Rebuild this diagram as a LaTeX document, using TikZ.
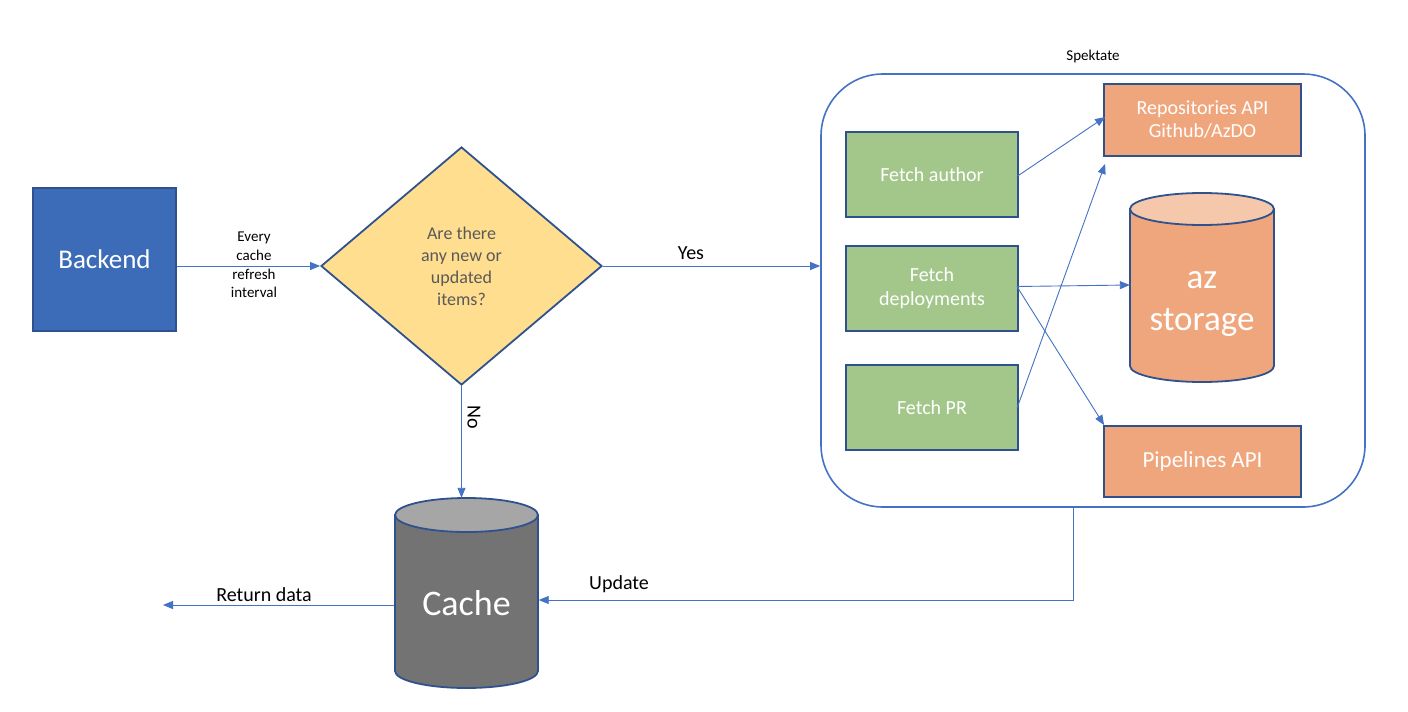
\documentclass[tikz,border=0pt]{standalone}
\usepackage{fontspec}
\setmainfont{Carlito}
\usetikzlibrary{arrows.meta,shapes.geometric}
\definecolor{bdr}{HTML}{2F528F}
\definecolor{lnb}{HTML}{4472C4}
\definecolor{bkb}{HTML}{3C6CB8}
\definecolor{ylw}{HTML}{FFDF8F}
\definecolor{grn}{HTML}{A3C78A}
\definecolor{org}{HTML}{F0A67C}
\definecolor{orgt}{HTML}{F6C8AB}
\definecolor{cgray}{HTML}{737373}
\definecolor{cgrayt}{HTML}{A6A6A6}
\definecolor{dtxt}{HTML}{595959}
\newcommand{\fsz}[2]{\fontsize{#1}{#2}\selectfont}
\begin{document}
\begin{tikzpicture}[x=1pt,y=-1pt,
  arr/.style={draw=lnb, line width=0.9pt, -{Triangle[length=10pt,width=8pt]}},
  box/.style={draw=bdr, line width=1.8pt, inner sep=0pt, align=center, text=white},
  gbox/.style={box, fill=grn, minimum width=172pt, minimum height=85pt, font=\fsz{20}{24}},
  obox/.style={box, fill=org, minimum width=197pt, minimum height=72pt},
  lbl/.style={inner sep=1pt, align=center, text=black},
  cylline/.style={draw=bdr, line width=1.8pt},
  cylnode/.style={inner sep=0pt, align=center, text=white, minimum width=144pt}
]
\useasboundingbox (0,0) rectangle (1408,712);
\fill[white] (0,0) rectangle (1408,712);

% Spektate container
\node[draw=lnb, line width=1.6pt, rounded corners=62pt, minimum width=544pt, minimum height=433pt] (spek) at (1093,290.5) {};
\node[lbl, font=\fsz{15}{18}] (spekl) at (1093,57) {Spektate};

% Backend
\node[box, fill=bkb, minimum width=143pt, minimum height=143pt, font=\fsz{27}{32}] (backend) at (104.5,259.5) {Backend};

% Decision
\node[diamond, draw=bdr, line width=1.8pt, fill=ylw, inner sep=0pt, minimum width=281pt, minimum height=238pt, align=center, text=dtxt, font=\fsz{18}{22}] (dec) at (461.5,266) {Are there\\any new or\\updated\\items?};

% Cache cylinder
\path[cylline, fill=cgray] (395,515) -- (395,671) arc[start angle=180, end angle=360, x radius=71.5pt, y radius=17pt] -- (538,515) -- cycle;
\draw[cylline, fill=cgrayt] (466.5,515) ellipse[x radius=71.5pt, y radius=17pt];
\node[cylnode, minimum height=210pt, font=\fsz{36}{42}] (cache) at (466.5,603) {Cache};

% az storage cylinder
\path[cylline, fill=org] (1130,209) -- (1130,366) arc[start angle=180, end angle=360, x radius=72pt, y radius=16pt] -- (1274,209) -- cycle;
\draw[cylline, fill=orgt] (1202,209) ellipse[x radius=72pt, y radius=16pt];
\node[cylnode, minimum height=222pt, font=\fsz{35}{42}] (stor) at (1202,304) {az\\storage};

% Green boxes
\node[gbox] (fa) at (932,174.5) {Fetch author};
\node[gbox] (fd) at (932,288.5) {Fetch\\deployments};
\node[gbox] (fp) at (932,407.5) {Fetch PR};

% Orange boxes
\node[obox, font=\fsz{20}{23}] (repo) at (1202.5,120) {Repositories API\\Github/AzDO};
\node[obox, minimum height=71pt, font=\fsz{23}{27}] (pipe) at (1202.5,461.5) {Pipelines API};

% Free end of return arrow
\coordinate (ret) at (163,605);

% Connectors
\draw[arr] (backend.east |- dec.west) -- (dec.west);
\node[lbl, font=\fsz{15}{18.7}] (every) at (254,265) {Every\\cache\\refresh\\interval};

\draw[arr] (dec.east) -- (dec.east -| spek.west);
\node[lbl, font=\fsz{20}{24}] (yes) at (691,253) {Yes};

\draw[arr] (dec.south) -- (dec.south |- cache.north);
\node[lbl, rotate=-90, font=\fsz{20}{24}] (nolbl) at (474,417) {No};

\draw[arr] ([xshift=-20pt]spek.south) |- ([yshift=3pt]cache.east);
\node[lbl, font=\fsz{20}{24}] (upd) at (619,584) {Update};

\draw[arr] ([yshift=-2pt]cache.west) -- (ret);
\node[lbl, font=\fsz{20}{24}] (retl) at (264,595) {Return data};

\draw[arr] ([xshift=-2pt,yshift=-2pt]fa.east) -- ([xshift=2pt,yshift=3pt]repo.west);
\draw[arr] ([xshift=-2pt,yshift=2pt]fd.east) -- ([yshift=19pt]stor.west);
\draw[arr] ([xshift=-2pt,yshift=2pt]fd.east) -- ([xshift=1pt]pipe.north west);
\draw[arr] ([xshift=-2pt,yshift=-1pt]fp.east) -- ([xshift=2pt,yshift=-7pt]repo.south west);
\end{tikzpicture}
\end{document}
